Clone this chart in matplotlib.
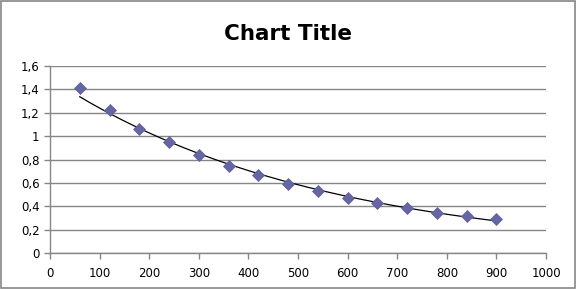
import numpy as np
import matplotlib
matplotlib.use("Agg")
import matplotlib.pyplot as plt
from matplotlib.ticker import FuncFormatter
from matplotlib.patches import Rectangle

# data
x_vals = [60, 120, 180, 240, 300, 360, 420, 480, 540, 600, 660, 720, 780, 840, 900]
y_vals = [1.41, 1.22, 1.065, 0.95, 0.84, 0.745, 0.665, 0.595, 0.53, 0.475, 0.43, 0.39, 0.345, 0.315, 0.29]
x_ticks = [0, 100, 200, 300, 400, 500, 600, 700, 800, 900, 1000]
y_ticks = [0, 0.2, 0.4, 0.6, 0.8, 1.0, 1.2, 1.4, 1.6]

grey = "#868686"

fig = plt.figure(figsize=(5.76, 2.89), dpi=100)
ax = fig.add_axes([0.0868, 0.1235, 0.948 - 0.0868, 0.7716 - 0.1235])

# exponential trendline (least squares on ln y, like the spreadsheet does)
xa = np.array(x_vals, dtype=float)
b, a = np.polyfit(xa, np.log(y_vals), 1)
xt = np.linspace(xa.min(), xa.max(), 200)
ax.plot(xt, np.exp(a + b * xt), color="black", lw=0.9, zorder=3)

ax.plot(x_vals, y_vals, linestyle="none", marker="D", markersize=6.5,
        markerfacecolor="#6666a4", markeredgecolor="#5c5c9c", markeredgewidth=0.5, zorder=4)

ax.set_xlim(0, 1000)
ax.set_ylim(0, 1.6)
ax.set_xticks(x_ticks)
ax.set_yticks(y_ticks)
fmt = FuncFormatter(lambda v, p: ("%g" % round(v, 2)).replace(".", ","))
ax.yaxis.set_major_formatter(fmt)
ax.grid(axis="y", color=grey, lw=1)
ax.set_axisbelow(True)
for s in ["top", "right"]:
    ax.spines[s].set_visible(False)
for s in ["left", "bottom"]:
    ax.spines[s].set_color(grey)
    ax.spines[s].set_linewidth(1)
ax.tick_params(axis="both", colors=grey, labelcolor="black", labelsize=8.5, length=4, width=1)
ax.tick_params(axis="x", pad=6)

fig.text(0.5, 0.883, "Chart Title", ha="center", va="center", fontsize=15.5, fontweight="bold")
fig.patches.append(Rectangle((0.001, 0.002), 0.997, 0.995, transform=fig.transFigure,
                             fill=False, edgecolor=grey, lw=1.2))

fig.savefig("out.png", dpi=100)
